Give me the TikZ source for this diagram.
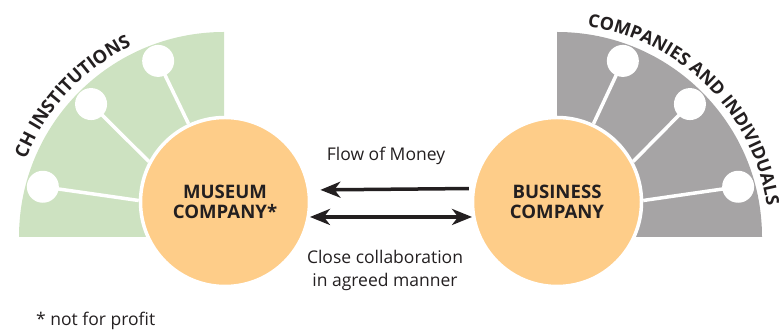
\documentclass[tikz,border=0pt]{standalone}
\usepackage{fontspec}
\setmainfont{Open Sans}
\usetikzlibrary{decorations.text,arrows.meta}
\definecolor{sgreen}{RGB}{205,226,193}
\definecolor{sgray}{RGB}{166,164,165}
\definecolor{sorange}{RGB}{254,205,137}
\definecolor{txt}{RGB}{35,31,32}
\pgfdeclarelayer{background}
\pgfsetlayers{background,main}
\tikzset{
  dot/.style={circle, fill=white, minimum size=32pt, inner sep=0pt},
  spoke/.style={white, line width=3.5pt},
  hub/.style={circle, fill=sorange, draw=white, line width=3.5pt, minimum size=169pt, inner sep=0pt,
    align=center, text=txt, font=\bfseries\fontsize{18.6}{19.4}\selectfont},
  arr/.style={txt, line width=3.5pt},
  lbl/.style={text=txt, inner sep=0pt, font=\fontsize{17.5}{23.4}\selectfont},
  tip/.tip={Stealth[length=20pt, width=16pt, inset=6pt]}
}
\begin{document}
\begin{tikzpicture}[x=1pt,y=1pt]
\useasboundingbox (0,0) rectangle (779,336);
% hub circles
\node[hub] (museum) at (225,134) {MUSEUM\\COMPANY*};
\node[hub] (business) at (557,134) {BUSINESS\\COMPANY};
% satellites
\begin{scope}[shift={(224,99)}]
  \node[dot] (l1) at (164.5:188) {};
  \node[dot] (l2) at (135:188) {};
  \node[dot] (l3) at (110.5:188) {};
\end{scope}
\begin{scope}[shift={(557,99)}]
  \node[dot] (r1) at (15.5:188) {};
  \node[dot] (r2) at (45:188) {};
  \node[dot] (r3) at (69.5:188) {};
\end{scope}
\begin{pgfonlayer}{background}
  \fill[sgreen] (224,99) -- (19,99) arc[start angle=180, end angle=90, radius=205] -- cycle;
  \fill[sgray] (557,99) -- (762,99) arc[start angle=0, end angle=90, radius=205] -- cycle;
  \draw[spoke] (l1.center) -- (museum.179);
  \draw[spoke] (l2.center) -- (museum.152);
  \draw[spoke] (l3.center) -- (museum.115);
  \draw[spoke] (r1.center) -- (business.1);
  \draw[spoke] (r2.center) -- (business.28);
  \draw[spoke] (r3.center) -- (business.65);
\end{pgfonlayer}
% arc labels
\path[decorate, decoration={text along path, text align=center,
  text={|\color{txt}\bfseries\fontsize{18.3}{20}\selectfont|CH INSTITUTIONS}}]
  (12.6,73) arc[start angle=187, end angle=87, radius=212];
\path[decorate, decoration={text along path, text align=center,
  text={|\color{txt}\bfseries\fontsize{17.9}{20}\selectfont|COMPANIES AND INDIVIDUALS}}]
  (538.6,310.8) arc[start angle=95, end angle=-5, radius=212];
% arrows
\draw[arr, -{tip}, shorten <=3pt, shorten >=10pt] (business.171.4) -- (museum.8.6);
\draw[arr, {tip}-{tip}] (museum.-10.4) -- (business.190.4);
% labels
\node[lbl, anchor=base] (flow) at (386,175.3) {Flow of Money};
\node[lbl, anchor=base, align=center] (collab) at (385,49.3) {Close collaboration\\in agreed manner};
\node[lbl, anchor=base west] (note) at (36,10.3) {* not for profit};
\end{tikzpicture}
\end{document}
